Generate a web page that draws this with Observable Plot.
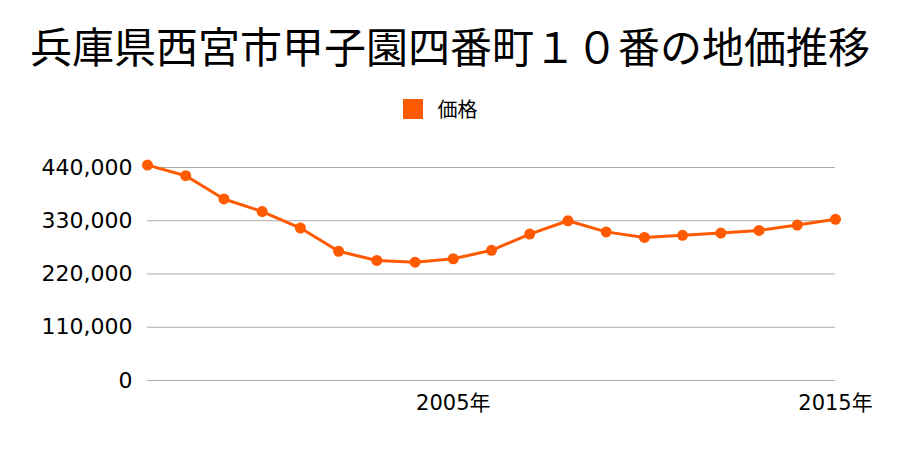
<!DOCTYPE html>
<html><head><meta charset="utf-8">
<script src="https://cdn.jsdelivr.net/npm/d3@7"></script>
<script src="https://cdn.jsdelivr.net/npm/@observablehq/plot@0.6"></script>
<style>
body{margin:0;background:#fff;font-family:"Noto Sans CJK JP",sans-serif;}
#wrap{width:900px;height:450px;position:relative;}
#title{position:absolute;top:15px;left:0;width:900px;text-align:center;font-size:42px;line-height:60px;color:#000;}
#legend{position:absolute;top:94px;left:0;width:900px;display:flex;justify-content:center;align-items:center;font-size:20px;color:#000;}
#legend .sw{width:20px;height:20px;background:#ff5a00;margin-right:15px;margin-left:-20px}
#chart{position:absolute;top:130px;left:0;}
</style></head>
<body><div id="wrap">
<div id="title">兵庫県西宮市甲子園四番町１０番の地価推移</div>
<div id="legend"><span class="sw"></span><span>価格</span></div>
<div id="chart"></div>
</div>
<script>
const years = [1997,1998,1999,2000,2001,2002,2003,2004,2005,2006,2007,2008,2009,2010,2011,2012,2013,2014,2015];
const prices = [445000,423000,375000,349000,315000,267000,248000,244500,251500,269000,302500,330000,307000,295500,300000,304500,310000,321000,333000];
const yTicks = [0,110000,220000,330000,440000];
const xTicks = [2005,2015];
const seriesName = "価格";
const data = years.map((y,i)=>({year:y, price:prices[i], series:seriesName}));
const color = "#ff5a00";
const chart = Plot.plot({
  width:900, height:320,
  marginLeft:147, marginRight:65, marginTop:37, marginBottom:70,
  style:{fontFamily:'"DejaVu Sans","Noto Sans CJK JP",sans-serif', fontSize:"21px", color:"#000", background:"#fff"},
  x:{domain:[1997,2015], ticks:xTicks, tickFormat:d=>d+"年", label:null},
  y:{domain:[0,440000], ticks:yTicks, tickFormat:d3.format(","), label:null},
  marks:[
    Plot.ruleY(yTicks,{stroke:"#aaa", strokeWidth:1.2, x1:1997, x2:2015}),
    Plot.axisY({ticks:yTicks, tickSize:0, tickPadding:15, tickFormat:d3.format(","), fontSize:22, label:null}),
    Plot.axisX({ticks:xTicks, tickSize:0, tickPadding:15, tickFormat:d=>d+"年", fontSize:21, label:null}),
    Plot.line(data,{x:"year", y:"price", stroke:color, strokeWidth:3}),
    Plot.dot(data,{x:"year", y:"price", fill:color, r:5.5})
  ]
});
document.getElementById("chart").appendChild(chart);
</script>
</body></html>
